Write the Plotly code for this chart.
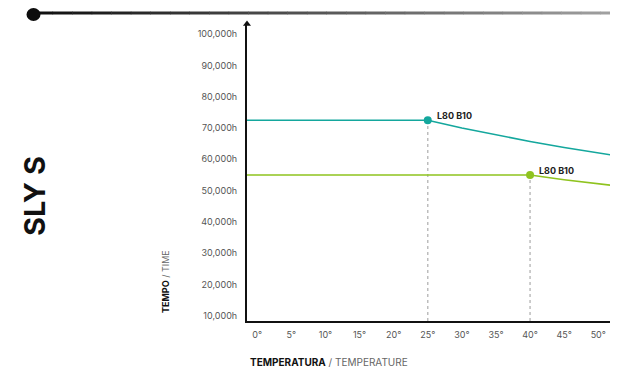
import plotly.graph_objects as go

# ---- data ----
teal_temp = [-5, 25, 30, 35, 40, 45, 50, 55]
teal_hours = [72500, 72500, 70000, 67800, 65700, 63800, 62000, 60300]
green_temp = [-5, 40, 45, 50, 55]
green_hours = [55000, 55000, 53500, 52200, 50900]
marker_temp = [25, 40]
marker_hours = [72500, 55000]
marker_labels = ["L80 B10", "L80 B10"]
x_ticks = [0, 5, 10, 15, 20, 25, 30, 35, 40, 45, 50]
x_ticklabels = [f"{t}°" for t in x_ticks]
y_ticks = [10000, 20000, 30000, 40000, 50000, 60000, 70000, 80000, 90000, 100000]
y_ticklabels = [f"{v:,}h" for v in y_ticks]

TEAL = "#14a79d"
GREEN = "#8fc31f"
X_RANGE = [-1.5, 52.6]
Y_RANGE = [8400, 103200]
FONT = "Inter, Roboto, sans-serif"

W, H = 610, 362
L, R, T, B = 239, 2, 16, 49
OFF = 8  # page offset (body margin)
pw, ph = W - L - R, H - T - B


def px(xs):
    return (xs - OFF - L) / pw


def py(ys):
    return (H - B - (ys - OFF)) / ph


fig = go.Figure()

# dotted drop lines
for t, h in zip(marker_temp, marker_hours):
    fig.add_trace(go.Scatter(x=[t, t], y=[Y_RANGE[0], h], mode="lines",
                             line=dict(color="#bdbdbd", width=1.5, dash="dot"),
                             hoverinfo="skip", showlegend=False))

fig.add_trace(go.Scatter(x=teal_temp, y=teal_hours, mode="lines",
                         line=dict(color=TEAL, width=1.6), showlegend=False))
fig.add_trace(go.Scatter(x=green_temp, y=green_hours, mode="lines",
                         line=dict(color=GREEN, width=1.6), showlegend=False))
fig.add_trace(go.Scatter(x=marker_temp, y=marker_hours, mode="markers",
                         marker=dict(color=[TEAL, GREEN], size=8), showlegend=False))

for t, h, lab in zip(marker_temp, marker_hours, marker_labels):
    fig.add_annotation(x=t, y=h, text=f"<b>{lab}</b>", showarrow=False,
                       xanchor="left", yanchor="middle", xshift=7, yshift=5,
                       font=dict(size=9, color="#222", family=FONT))

# axis arrowheads
fig.add_trace(go.Scatter(x=[X_RANGE[0]], y=[Y_RANGE[1]], mode="markers",
                         marker=dict(symbol="triangle-up", size=7, color="#111"),
                         cliponaxis=False, showlegend=False, hoverinfo="skip"))
fig.add_trace(go.Scatter(x=[X_RANGE[1]], y=[Y_RANGE[0]], mode="markers",
                         marker=dict(symbol="triangle-right", size=7, color="#111"),
                         cliponaxis=False, showlegend=False, hoverinfo="skip"))

# top decorative line with gradient
n = 30
x0s, x1s = 33, 620
line_y = 13
for i in range(n):
    a = x0s + (x1s - x0s) * i / n
    b = x0s + (x1s - x0s) * (i + 1) / n
    f = i / (n - 1)
    g = int(17 + (160 - 17) * f)
    fig.add_shape(type="line", xref="paper", yref="paper",
                  x0=px(a), x1=px(b + 0.5), y0=py(line_y), y1=py(line_y),
                  line=dict(color=f"rgb({g},{g},{g})", width=3))
fig.add_shape(type="circle", xref="paper", yref="paper",
              x0=px(26.5), x1=px(40.5), y0=py(21), y1=py(8),
              fillcolor="#0d0d0d", line=dict(width=0))

fig.add_annotation(xref="paper", yref="paper", x=px(34), y=py(196),
                   xanchor="center", yanchor="middle",
                   text="<b>SLY S</b>", textangle=-90, showarrow=False,
                   font=dict(size=29, color="#111", family=FONT))
fig.add_annotation(xref="paper", yref="paper", x=px(165), y=py(282),
                   xanchor="center", yanchor="middle",
                   text="<b>TEMPO</b> <span style='color:#666'>/ TIME</span>",
                   textangle=-90, showarrow=False,
                   font=dict(size=9, color="#111", family=FONT))
fig.add_annotation(xref="paper", yref="paper", x=px(249), y=py(362),
                   xanchor="left", yanchor="middle", borderpad=0,
                   text="<b>TEMPERATURA</b> <span style='color:#666'>/ TEMPERATURE</span>",
                   showarrow=False,
                   font=dict(size=10, color="#111", family=FONT))

fig.update_xaxes(range=X_RANGE, tickvals=x_ticks, ticktext=x_ticklabels,
                 showgrid=False, zeroline=False, showline=True, linecolor="#111",
                 linewidth=2, ticks="", ticklabelstandoff=4,
                 tickfont=dict(size=9, color="#555", family=FONT))
fig.update_yaxes(range=Y_RANGE, tickvals=y_ticks, ticktext=y_ticklabels,
                 showgrid=False, zeroline=False, showline=True, linecolor="#111",
                 linewidth=2, ticks="", ticklabelstandoff=6,
                 tickfont=dict(size=9, color="#555", family=FONT))

fig.update_layout(width=W, height=H, margin=dict(l=L, r=R, t=T, b=B),
                  plot_bgcolor="white", paper_bgcolor="white", showlegend=False)

fig.write_html("out.html")
